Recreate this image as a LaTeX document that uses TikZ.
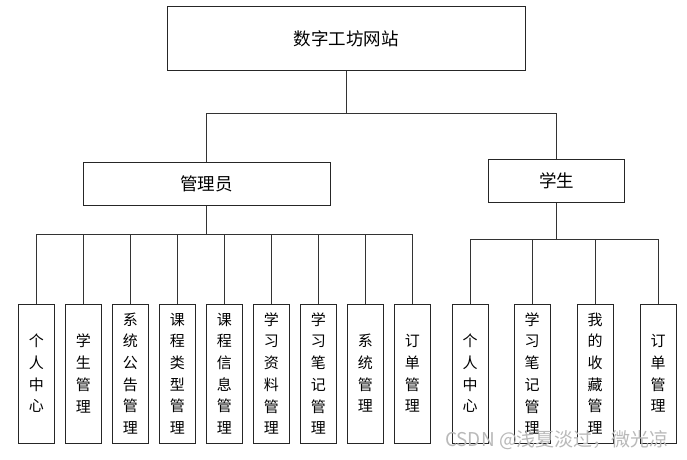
\documentclass[tikz,border=0pt]{standalone}
\usepackage{fontspec}
\newfontfamily\cjk{Noto Sans CJK SC}
\usetikzlibrary{positioning}

\begin{document}
\begin{tikzpicture}[
  x=1pt, y=-1pt,
  font=\cjk,
  node distance=10pt,
  topbox/.style={
    rectangle, draw=black!85, line width=1pt,
    minimum width=358pt, minimum height=64pt,
    font=\cjk\fontsize{17.5}{20}\selectfont
  },
  rolebox/.style={
    rectangle, draw=black!85, line width=1pt,
    minimum height=43pt,
    font=\cjk\fontsize{17.5}{20}\selectfont
  },
  leaf/.style={
    rectangle, draw=black!85, line width=1pt,
    minimum width=36pt, minimum height=139pt, inner sep=0pt,
    align=center, font=\cjk\fontsize{15}{21.7}\selectfont
  },
  link/.style={draw=black!80, line width=1pt},
  wmark/.style={text=gray!55, font=\cjk\fontsize{19}{22}\selectfont},
]
\useasboundingbox (0,0) rectangle (687,459);

\node[topbox] (root) at (346,38.7) {数字工坊网站};
\node[rolebox, minimum width=247pt] (admin) at (206.7,184.3) {管理员};
\node[rolebox, minimum width=136pt] (student) at (556.8,181) {学生};

\node[leaf] (a1) at (36.3,373.5) {个\\人\\中\\心};
\node[leaf, right=of a1] (a2) {学\\生\\管\\理};
\node[leaf, right=of a2] (a3) {系\\统\\公\\告\\管\\理};
\node[leaf, right=of a3] (a4) {课\\程\\类\\型\\管\\理};
\node[leaf, right=of a4] (a5) {课\\程\\信\\息\\管\\理};
\node[leaf, right=of a5] (a6) {学\\习\\资\\料\\管\\理};
\node[leaf, right=of a6] (a7) {学\\习\\笔\\记\\管\\理};
\node[leaf, right=of a7] (a8) {系\\统\\管\\理};
\node[leaf, right=of a8] (a9) {订\\单\\管\\理};

\node[leaf] (s1) at (470,373.5) {个\\人\\中\\心};
\node[leaf, right=25pt of s1] (s2) {学\\习\\笔\\记\\管\\理};
\node[leaf, right=26pt of s2] (s3) {我\\的\\收\\藏\\管\\理};
\node[leaf, right=26pt of s3] (s4) {订\\单\\管\\理};

\coordinate (rootbus) at (346,113.3);
\coordinate (adminbus) at (206.7,234.3);
\coordinate (studentbus) at (556.8,239);

\draw[link] (root.south) -- (rootbus);
\draw[link] (rootbus) -| (admin.north);
\draw[link] (rootbus) -| (student.north);

\draw[link] (admin.south) -- (adminbus);
\draw[link] (adminbus) -| (a1.north);
\draw[link] (adminbus) -| (a2.north);
\draw[link] (adminbus) -| (a3.north);
\draw[link] (adminbus) -| (a4.north);
\draw[link] (adminbus) -| (a5.north);
\draw[link] (adminbus) -| (a6.north);
\draw[link] (adminbus) -| (a7.north);
\draw[link] (adminbus) -| (a8.north);
\draw[link] (adminbus) -| (a9.north);

\draw[link] (student.south) -- (studentbus);
\draw[link] (studentbus) -| (s1.north);
\draw[link] (studentbus) -| (s2.north);
\draw[link] (studentbus) -| (s3.north);
\draw[link] (studentbus) -| (s4.north);

\node[wmark] (mark) at (557,440) {CSDN @浅夏淡过，微光凉};

\end{tikzpicture}
\end{document}
